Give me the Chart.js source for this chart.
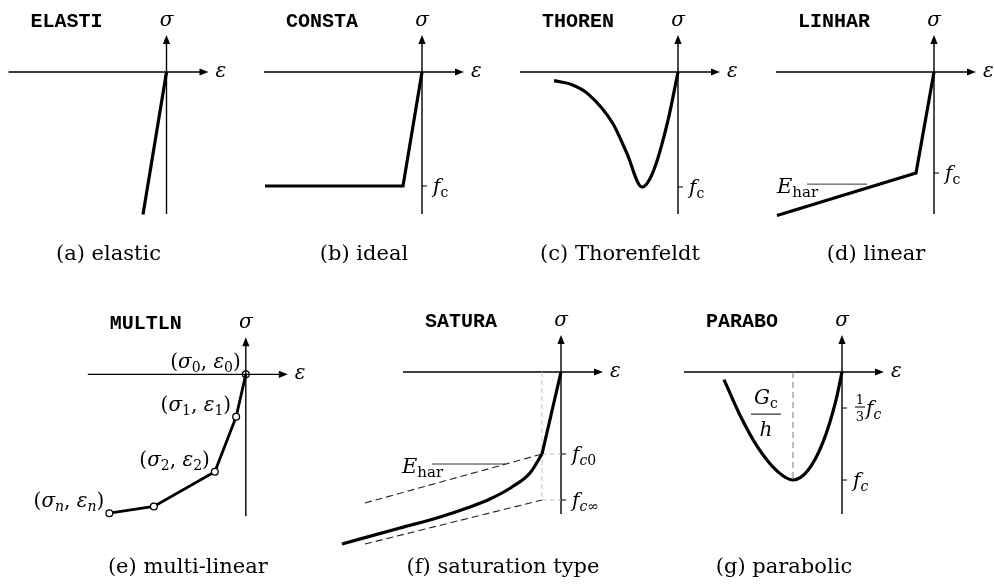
<!DOCTYPE html>
<html>
<head>
<meta charset="utf-8">
<script src="https://cdn.jsdelivr.net/npm/chart.js@4"></script>
<style>
  html, body { margin: 0; background: #fff; }
  #sheet { position: relative; width: 994px; height: 585px; }
  #sheet canvas { position: absolute; }
</style>
</head>
<body>
<div id="sheet"></div>
<script>
// ── Concrete compression models: stress (σ) vs strain (ε) ─────────
// σ is normalised to the compressive strength (f_c = -1), ε in arbitrary units.

// (a) elastic
const ELASTI_EPS = [0, -0.235];
const ELASTI_SIG = [0, -1.25];

// (b) ideal (constant after f_c)
const CONSTA_EPS = [-1.57, -0.19, 0];
const CONSTA_SIG = [-1, -1, 0];

// (c) Thorenfeldt
const THOREN_EPS = [-1.24, -1.06, -0.90, -0.65, -0.51, -0.36, -0.25, -0.10, 0];
const THOREN_SIG = [-0.075, -0.11, -0.19, -0.45, -0.71, -1.00, -0.87, -0.42, 0];

// (d) linear hardening
const LINHAR_EPS = [-1.57, -0.18, 0];
const LINHAR_SIG = [-1.42, -1, 0];

// (e) multi-linear, points 0, 1, 2, …, n
const MULTLN_EPS = [0, -0.10, -0.32, -0.95, -1.41];
const MULTLN_SIG = [0, -0.44, -1.01, -1.37, -1.44];
const MULTLN_TAGS = ['0', '1', '2', null, 'n'];

// (f) saturation type: straight rise to f_c0, then the saturating branch
const SATURA_EPS = [-2.19, -1.61, -1.21, -0.94, -0.71, -0.49, -0.31, -0.19];
const SATURA_SIG = [-1.72, -1.56, -1.45, -1.36, -1.27, -1.15, -1.01, -0.82];
const SATURA_EPS0 = -0.19;
const SATURA_FC0 = -0.82;
const SATURA_FCINF = -1.28;
const SATURA_TANGENT_EPS = [-1.96, SATURA_EPS0];
const SATURA_TANGENT_SIG = [-1.31, SATURA_FC0];
const SATURA_ASYMP_EPS = [-1.96, SATURA_EPS0];
const SATURA_ASYMP_SIG = [-1.72, SATURA_FCINF];

// (g) parabolic
const PARABO_EPS = [-1.18, -1.02, -0.84, -0.64, -0.49, -0.34, -0.19, -0.06, 0];
const PARABO_SIG = [-0.07, -0.40, -0.70, -0.925, -1.00, -0.91, -0.65, -0.26, 0];
const PARABO_PEAK_EPS = -0.49;
const PARABO_TICKS = [-1 / 3, -1];

// ── fonts / helpers ─────────────────────────────────────────────
const SERIF = '"DejaVu Serif", serif';
const F_MATH = `italic 20px ${SERIF}`;
const F_ROM = `20px ${SERIF}`;
const F_CAP = `21px ${SERIF}`;
const F_SUB = `14px ${SERIF}`;
const F_SUB_IT = `italic 14px ${SERIF}`;
const F_FRAC = `13px ${SERIF}`;
const F_TT = `bold 20px "Liberation Mono", monospace`;

const AXIS = { left: 158, right: 42, up: 37, down: 142 };

const FC_UP = [['f', F_MATH], ['c', F_SUB, 4]];
const FC_IT = [['f', F_MATH], ['c', F_SUB_IT, 4]];
const E_HAR = [['E', `italic 21px ${SERIF}`], ['har', `15px ${SERIF}`, 4]];
const SMOOTH = { cubicInterpolationMode: 'monotone' };

const pts = (eps, sig) => eps.map((e, i) => ({ x: e, y: sig[i] }));

function curve(eps, sig, extra) {
  return Object.assign({
    data: pts(eps, sig), borderColor: '#000', borderWidth: 3.2,
    pointRadius: 0, fill: false, tension: 0
  }, extra || {});
}

function dashed(eps, sig, color, dash, width) {
  return { data: pts(eps, sig), borderColor: color, borderWidth: width,
           borderDash: dash, pointRadius: 0, fill: false, tension: 0 };
}

function drawRuns(ctx, parts, x, y, align) {
  let w = 0;
  parts.forEach(([t, f]) => { ctx.font = f; w += ctx.measureText(t).width; });
  let cx = align === 'right' ? x - w : align === 'center' ? x - w / 2 : x;
  ctx.textAlign = 'left';
  ctx.textBaseline = 'alphabetic';
  parts.forEach(([t, f, dy]) => {
    ctx.font = f;
    ctx.fillText(t, cx, y + (dy || 0));
    cx += ctx.measureText(t).width;
  });
}

function line(ctx, x1, y1, x2, y2) {
  ctx.beginPath(); ctx.moveTo(x1, y1); ctx.lineTo(x2, y2); ctx.stroke();
}

function pairLabel(tag) {
  const sub = tag === 'n' ? F_SUB_IT : F_SUB;
  return [['(', F_ROM], ['σ', F_MATH], [tag, sub, 4], [', ', F_ROM],
          ['ε', F_MATH], [tag, sub, 4], [')', F_ROM]];
}

// axes with arrows, ticks and every label of one panel
function panelPlugin(cfg) {
  return {
    id: 'panel',
    beforeDatasetsDraw(chart) {
      const { ctx, scales: { x, y } } = chart;
      const ox = x.getPixelForValue(0), oy = y.getPixelForValue(0);
      ctx.save();
      ctx.strokeStyle = '#000';
      ctx.fillStyle = '#000';
      ctx.lineWidth = 1.4;
      // ε axis
      line(ctx, ox - AXIS.left, oy, ox + AXIS.right - 6, oy);
      ctx.beginPath();
      ctx.moveTo(ox + AXIS.right, oy);
      ctx.lineTo(ox + AXIS.right - 9, oy - 3.6);
      ctx.lineTo(ox + AXIS.right - 9, oy + 3.6);
      ctx.closePath(); ctx.fill();
      // σ axis
      line(ctx, ox, oy + AXIS.down, ox, oy - AXIS.up + 6);
      ctx.beginPath();
      ctx.moveTo(ox, oy - AXIS.up);
      ctx.lineTo(ox - 3.6, oy - AXIS.up + 9);
      ctx.lineTo(ox + 3.6, oy - AXIS.up + 9);
      ctx.closePath(); ctx.fill();
      // ticks on the σ axis
      ctx.lineWidth = 1;
      (cfg.ticks || []).forEach(t => {
        const ty = y.getPixelForValue(t.value);
        line(ctx, ox, ty, ox + 5, ty);
        let lx = ox + 11;
        if (t.frac) {
          const fx = ox + 18;
          ctx.font = F_FRAC; ctx.textAlign = 'center';
          ctx.fillText(t.frac[0], fx, ty - 4);
          ctx.fillText(t.frac[1], fx, ty + 13);
          line(ctx, fx - 5, ty - 1, fx + 5, ty - 1);
          lx = ox + 24;
        }
        drawRuns(ctx, t.label, lx, ty + 7, 'left');
      });
      ctx.restore();
    },
    afterDatasetsDraw(chart) {
      const { ctx, scales: { x, y } } = chart;
      const ox = x.getPixelForValue(0), oy = y.getPixelForValue(0);
      const top = chart.canvas.offsetTop;
      ctx.save();
      ctx.fillStyle = '#000';
      ctx.strokeStyle = '#000';
      drawRuns(ctx, [['σ', F_MATH]], ox, oy - 46, 'center');
      drawRuns(ctx, [['ε', F_MATH]], ox + AXIS.right + 7, oy + 5, 'left');
      drawRuns(ctx, [[cfg.name, F_TT]], ox - 64, oy - 45, 'right');
      drawRuns(ctx, [[cfg.caption, F_CAP]], ox + (AXIS.right - AXIS.left) / 2, cfg.captionY - top, 'center');

      if (cfg.leader) {
        const x1 = x.getPixelForValue(cfg.leader.eps[0]);
        const x2 = x.getPixelForValue(cfg.leader.eps[1]);
        const ly = y.getPixelForValue(cfg.leader.sig);
        ctx.lineWidth = 1; ctx.strokeStyle = '#333';
        line(ctx, x1, ly, x2, ly);
        drawRuns(ctx, E_HAR, x1 - 30, ly + 9, 'left');
      }
      if (cfg.fraction) {
        const fx = x.getPixelForValue(cfg.fraction.eps);
        const fy = y.getPixelForValue(cfg.fraction.sig);
        ctx.lineWidth = 1; ctx.strokeStyle = '#000';
        line(ctx, fx - 15, fy, fx + 15, fy);
        drawRuns(ctx, [['G', F_MATH], ['c', F_SUB, 4]], fx, fy - 10, 'center');
        drawRuns(ctx, [['h', F_MATH]], fx, fy + 22, 'center');
      }
      if (cfg.tags) {
        const meta = chart.getDatasetMeta(0);
        cfg.tags.forEach((tag, i) => {
          if (!tag) return;
          const p = meta.data[i];
          drawRuns(ctx, pairLabel(tag), p.x - 5, p.y - 6, 'right');
        });
      }
      ctx.restore();
    }
  };
}

// ── panels ──────────────────────────────────────────────────────
const panels = [
  { box: [0, 0, 250, 270], origin: [166.5, 72], ux: 100, uy: 114, captionY: 260,
    name: 'ELASTI', caption: '(a) elastic',
    datasets: [curve(ELASTI_EPS, ELASTI_SIG)] },
  { box: [250, 0, 250, 270], origin: [422, 72], ux: 100, uy: 114, captionY: 260,
    name: 'CONSTA', caption: '(b) ideal', ticks: [{ value: -1, label: FC_UP }],
    datasets: [curve(CONSTA_EPS, CONSTA_SIG)] },
  { box: [500, 0, 245, 270], origin: [678, 72], ux: 100, uy: 115, captionY: 260,
    name: 'THOREN', caption: '(c) Thorenfeldt', ticks: [{ value: -1, label: FC_UP }],
    datasets: [curve(THOREN_EPS, THOREN_SIG, SMOOTH)] },
  { box: [745, 0, 249, 270], origin: [934, 72], ux: 100, uy: 101, captionY: 260,
    name: 'LINHAR', caption: '(d) linear', ticks: [{ value: -1, label: FC_UP }],
    leader: { eps: [-1.27, -0.67], sig: -1.11 },
    datasets: [curve(LINHAR_EPS, LINHAR_SIG)] },
  { box: [0, 290, 330, 295], origin: [248.5, 372], ux: 100, uy: 100, captionY: 573,
    name: 'MULTLN', caption: '(e) multi-linear', tags: MULTLN_TAGS,
    datasets: [curve(MULTLN_EPS, MULTLN_SIG, {
      borderWidth: 2.8, pointRadius: 3.4, pointBorderWidth: 1.3, pointBorderColor: '#000',
      pointBackgroundColor: ['rgba(0,0,0,0)', '#fff', '#fff', '#fff', '#fff']
    })] },
  { box: [330, 290, 330, 295], origin: [561, 372], ux: 100, uy: 100, captionY: 573,
    name: 'SATURA', caption: '(f) saturation type',
    ticks: [
      { value: SATURA_FC0, label: [['f', F_MATH], ['c', F_SUB_IT, 4], ['0', F_SUB, 4]] },
      { value: SATURA_FCINF, label: [['f', F_MATH], ['c', F_SUB_IT, 4], ['∞', F_SUB, 4]] }
    ],
    leader: { eps: [-1.29, -0.56], sig: -0.92 },
    datasets: [
      curve(SATURA_EPS, SATURA_SIG, SMOOTH),
      curve([SATURA_EPS0, 0], [SATURA_FC0, 0]),
      dashed(SATURA_TANGENT_EPS, SATURA_TANGENT_SIG, '#222', [7, 4], 1.1),
      dashed(SATURA_ASYMP_EPS, SATURA_ASYMP_SIG, '#222', [7, 4], 1.1),
      dashed([SATURA_EPS0, SATURA_EPS0], [0, SATURA_FCINF], '#c4c4c4', [5, 3], 1),
      dashed([SATURA_EPS0, 0], [SATURA_FC0, SATURA_FC0], '#c4c4c4', [5, 3], 1),
      dashed([SATURA_EPS0, 0], [SATURA_FCINF, SATURA_FCINF], '#c4c4c4', [5, 3], 1)
    ] },
  { box: [660, 290, 334, 295], origin: [842, 372], ux: 100, uy: 108, captionY: 573,
    name: 'PARABO', caption: '(g) parabolic',
    ticks: [
      { value: PARABO_TICKS[0], frac: ['1', '3'], label: FC_IT },
      { value: PARABO_TICKS[1], label: FC_IT }
    ],
    fraction: { eps: -0.76, sig: -0.39 },
    datasets: [
      curve(PARABO_EPS, PARABO_SIG, SMOOTH),
      dashed([PARABO_PEAK_EPS, PARABO_PEAK_EPS], [0, -1], '#777', [6, 4], 1)
    ] }
];

const sheet = document.getElementById('sheet');

panels.forEach(p => {
  const [l, t, w, h] = p.box;
  const canvas = document.createElement('canvas');
  canvas.width = w;
  canvas.height = h;
  canvas.style.left = l + 'px';
  canvas.style.top = t + 'px';
  sheet.appendChild(canvas);

  const ox = p.origin[0] - l, oy = p.origin[1] - t;
  new Chart(canvas, {
    type: 'line',
    data: { datasets: p.datasets },
    options: {
      responsive: false,
      animation: false,
      events: [],
      layout: { padding: 0 },
      plugins: { legend: { display: false }, tooltip: { enabled: false } },
      scales: {
        x: { type: 'linear', display: false, min: -ox / p.ux, max: (w - ox) / p.ux },
        y: { type: 'linear', display: false, min: -(h - oy) / p.uy, max: oy / p.uy }
      }
    },
    plugins: [panelPlugin(p)]
  });
});
</script>
</body>
</html>
